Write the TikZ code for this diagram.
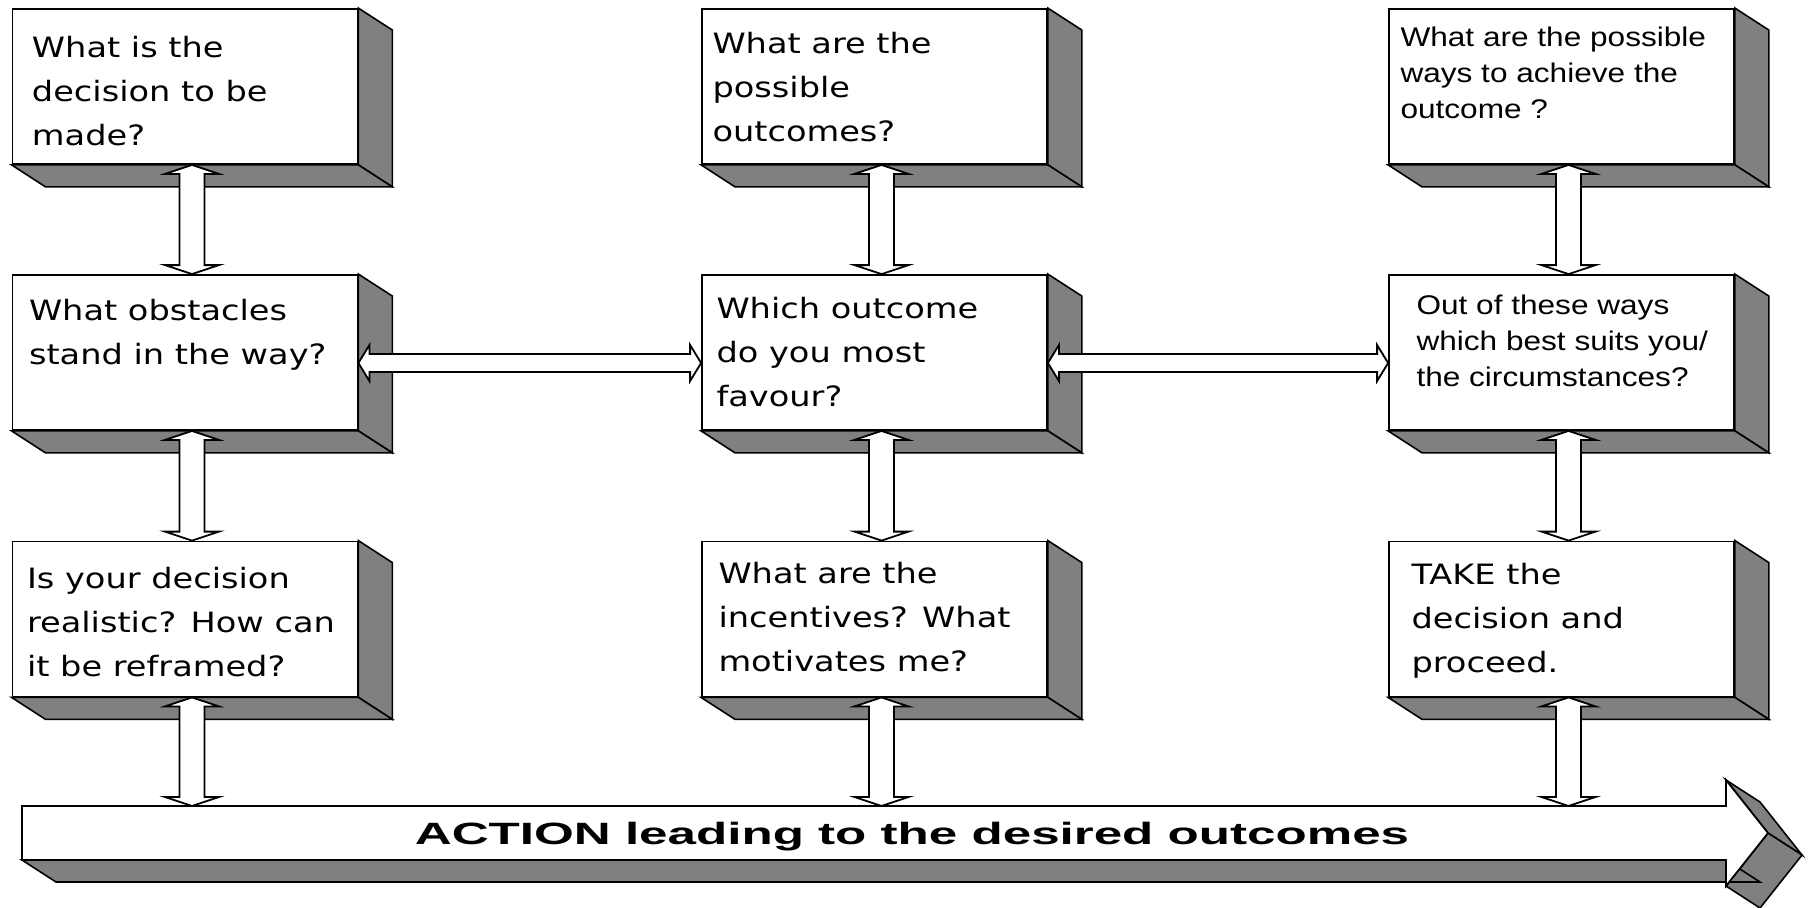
\documentclass[tikz,border=0pt]{standalone}
\usepackage{fontspec}
\usetikzlibrary{calc}

\newfontfamily\boxfont[FakeStretch=1.2]{DejaVu Sans}
\newfontfamily\thinfont[FakeStretch=1.17]{Liberation Sans}
\newfontfamily\actfont[FakeStretch=1.66]{Liberation Sans}
\definecolor{sidegray}{HTML}{808080}

\tikzset{
  face/.style={fill=sidegray, draw=black, line width=0.8pt, line join=miter},
  front/.style={draw=black, fill=white, line width=0.9pt,
    minimum width=172.5pt, minimum height=77.5pt, inner sep=0pt},
  blk/.style={draw=black, fill=white, line width=0.9pt, line join=miter},
  qtext/.style={anchor=north west, inner sep=0pt, align=left,
    font=\boxfont\fontsize{14}{22}\selectfont},
  qthin/.style={anchor=north west, inner sep=0pt, align=left,
    font=\thinfont\fontsize{13.5}{18}\selectfont},
}

% extruded box: front face plus grey right and bottom faces
\newcommand\solidbox[2]{%
  \node[front] (#1) at (#2) {};
  \draw[face] (#1.north east) -- ++(34,22) -- ($(#1.south east)+(34,22)$)
    -- (#1.south east) -- cycle;
  \draw[face] (#1.south west) -- (#1.south east) -- ++(34,22)
    -- ($(#1.south west)+(34,22)$) -- cycle;
}
% hollow double-headed block arrow, vertical
\newcommand\vconn[2]{%
  \draw[blk] ($(#1)+(7,0)$) -- ++(27,9) -- ++(-14.5,0)
    -- ($(#2)+(19.5,-9)$) -- ++(14.5,0) -- ($(#2)+(7,0)$)
    -- ++(-27,-9) -- ++(14.5,0) -- ($(#1)+(-5.5,9)$) -- ++(-14.5,0) -- cycle;
}
% hollow double-headed block arrow, horizontal
\newcommand\hconn[2]{%
  \draw[blk] ($(#1)+(0,10.5)$) -- ++(11,-18) -- ++(0,9)
    -- ($(#2)+(-11,1.5)$) -- ++(0,-9) -- ($(#2)+(0,10.5)$)
    -- ++(-11,18) -- ++(0,-9) -- ($(#1)+(11,19.5)$) -- ++(0,9) -- cycle;
}

\begin{document}
\begin{tikzpicture}[x=0.5pt, y=-0.5pt]
\fill[white] (0,0) rectangle (1808,907);
\useasboundingbox (0,0) rectangle (1808,907);

% question boxes
\solidbox{b11}{185,86.5}
\solidbox{b21}{185,352.5}
\solidbox{b31}{185,619}
\solidbox{b12}{874.5,86.5}
\solidbox{b22}{874.5,352.5}
\solidbox{b32}{874.5,619}
\solidbox{b13}{1561.5,86.5}
\solidbox{b23}{1561.5,352.5}
\solidbox{b33}{1561.5,619}

% texts (second offset = first baseline minus strut height)
\node[qtext] (t11) at ($(b11.north west)+(20,27)$)
  {\rule{0pt}{11pt}What is the\\decision to be\\made?};
\node[qtext] (t21) at ($(b21.north west)+(17,24)$)
  {\rule{0pt}{11pt}What obstacles\\stand in the way?};
\node[qtext] (t31) at ($(b31.north west)+(15,25)$)
  {\rule{0pt}{11pt}Is your decision\\realistic? How can\\it be reframed?};
\node[qtext] (t12) at ($(b12.north west)+(11,23)$)
  {\rule{0pt}{11pt}What are the\\possible\\outcomes?};
\node[qtext] (t22) at ($(b22.north west)+(15,22)$)
  {\rule{0pt}{11pt}Which outcome\\do you most\\favour?};
\node[qtext] (t32) at ($(b32.north west)+(17,20)$)
  {\rule{0pt}{11pt}What are the\\incentives? What\\motivates me?};
\node[qtext] (t33) at ($(b33.north west)+(23,21)$)
  {\rule{0pt}{11pt}TAKE the\\decision and\\proceed.};
\node[qthin] (t13) at ($(b13.north west)+(12,18)$)
  {\rule{0pt}{10pt}What are the possible\\ways to achieve the\\outcome ?};
\node[qthin] (t23) at ($(b23.north west)+(28,20)$)
  {\rule{0pt}{10pt}Out of these ways\\which best suits you/\\the circumstances?};

% action arrow: grey depth faces, then front face
\path (22,806) coordinate (aTL) (1726,806) coordinate (aTR)
      (1726,780) coordinate (aHT) (1768,833) coordinate (aTip)
      (1726,886) coordinate (aHB) (1726,860) coordinate (aBR)
      (22,860) coordinate (aBL);
\draw[face] (aHT) -- ++(34,22) -- ($(aTip)+(34,22)$) -- (aTip) -- cycle;
\draw[face] (aTip) -- ++(34,22) -- ($(aHB)+(34,22)$) -- (aHB) -- cycle;
\draw[face] (aBL) -- (aBR) -- ++(34,22) -- ($(aBL)+(34,22)$) -- cycle;
\draw[blk] (aTL) -- (aTR) -- (aHT) -- (aTip) -- (aHB) -- (aBR) -- (aBL) -- cycle;
\node[anchor=base, inner sep=0pt,
  font=\actfont\bfseries\fontsize{15.4}{18}\selectfont] (act) at (912,844)
  {ACTION leading to the desired outcomes};

% connectors
\coordinate (acttop) at (aTL);
\coordinate (e1) at (b31.south |- acttop);
\coordinate (e2) at (b32.south |- acttop);
\coordinate (e3) at (b33.south |- acttop);
\vconn{b11.south}{b21.north}
\vconn{b21.south}{b31.north}
\vconn{b31.south}{e1}
\vconn{b12.south}{b22.north}
\vconn{b22.south}{b32.north}
\vconn{b32.south}{e2}
\vconn{b13.south}{b23.north}
\vconn{b23.south}{b33.north}
\vconn{b33.south}{e3}
\hconn{b21.east}{b22.west}
\hconn{b22.east}{b23.west}
\end{tikzpicture}
\end{document}
